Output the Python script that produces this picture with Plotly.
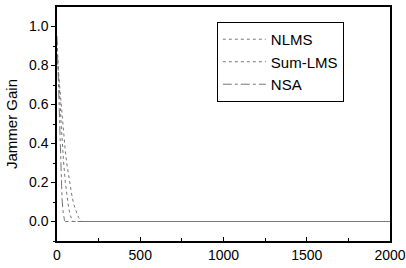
import plotly.graph_objects as go

# Iterations and jammer gain per algorithm
nlms_x = [0, 5, 10, 15, 20, 25, 30, 40, 50, 60, 70, 80, 90, 100, 2000]
nlms_y = [0.92, 0.85, 0.75, 0.66, 0.58, 0.50, 0.42, 0.30, 0.20, 0.12, 0.07, 0.03, 0.01, 0.0, 0.0]

sum_x = [0, 5, 10, 20, 30, 40, 50, 60, 70, 80, 90, 100, 110, 120, 130, 140, 150, 2000]
sum_y = [0.85, 0.80, 0.74, 0.62, 0.52, 0.43, 0.36, 0.29, 0.23, 0.18, 0.13, 0.09, 0.06, 0.04, 0.02, 0.01, 0.0, 0.0]

nsa_x = [0, 5, 10, 15, 20, 25, 30, 35, 40, 45, 50, 2000]
nsa_y = [0.95, 0.80, 0.62, 0.48, 0.35, 0.22, 0.12, 0.06, 0.02, 0.005, 0.0, 0.0]

series = [
    ("NLMS", nlms_x, nlms_y, "dot"),
    ("Sum-LMS", sum_x, sum_y, "dot"),
    ("NSA", nsa_x, nsa_y, "dashdot"),
]

fig = go.Figure()
for name, xs, ys, dash in series:
    fig.add_trace(go.Scatter(x=xs, y=ys, name=name, mode="lines",
                             line=dict(color="#777777", width=1, dash=dash)))

axis_common = dict(showgrid=False, zeroline=False, showline=True, linecolor="black",
                   linewidth=1.5, mirror=True, ticklen=4,
                   tickcolor="black", automargin=False,
                   tickfont=dict(size=14, color="black"))

fig.update_xaxes(range=[0, 2000], tickvals=[0, 500, 1000, 1500, 2000], ticks="inside",
                 ticklabelstandoff=0,
                 minor=dict(tickvals=[250, 750, 1250, 1750], ticks="inside", ticklen=3, tickcolor="black"),
                 **axis_common)
fig.update_yaxes(range=[-0.1, 1.1], tickvals=[0.0, 0.2, 0.4, 0.6, 0.8, 1.0], tickformat=".1f",
                 ticks="outside",
                 minor=dict(tickvals=[-0.1, 0.1, 0.3, 0.5, 0.7, 0.9], ticks="outside", ticklen=2, tickcolor="black"),
                 title=dict(text="Jammer Gain", font=dict(size=15, color="black"), standoff=8),
                 **axis_common)

fig.update_layout(
    width=406, height=268,
    margin=dict(l=57, r=16, t=7, b=27),
    paper_bgcolor="white", plot_bgcolor="white",
    font=dict(family="Liberation Sans, Arial, sans-serif", color="black"),
    showlegend=True,
    legend=dict(x=0.48, y=0.936, xanchor="left", yanchor="top",
                bordercolor="black", borderwidth=1, bgcolor="white",
                font=dict(size=15), tracegroupgap=0, itemwidth=43),
)

fig.write_html("out.html",
               config={"displayModeBar": False},
               post_script="document.body.style.margin='0';document.body.style.overflow='hidden';")
